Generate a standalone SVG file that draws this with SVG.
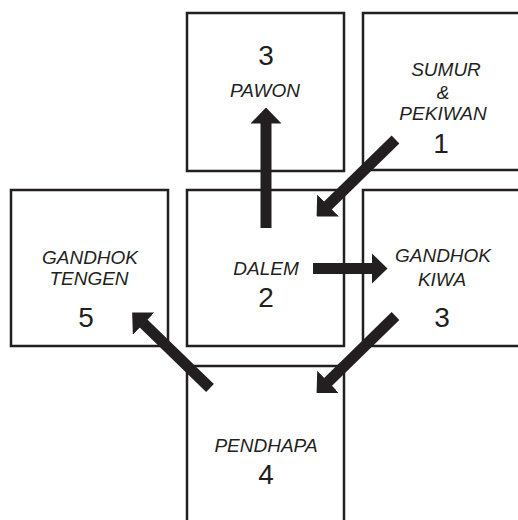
<svg xmlns="http://www.w3.org/2000/svg" width="518" height="520" viewBox="0 0 518 520">
<defs>
<style>
.box{fill:#fff;stroke:#231f20;stroke-width:2.5}
.lbl{font-family:"Liberation Sans",Arial,sans-serif;font-style:italic;font-size:19px;fill:#231f20;text-anchor:middle}
.num{font-family:"Liberation Sans",Arial,sans-serif;font-size:28px;fill:#231f20;text-anchor:middle}
.arr{stroke:#231f20;stroke-width:11;fill:none;marker-end:url(#head)}
</style>
<marker id="head" markerUnits="userSpaceOnUse" markerWidth="16" markerHeight="31" viewBox="0 0 16 31" refX="0.5" refY="15.5" orient="auto">
<path d="M0,0 L16,15.5 L0,31 Z" fill="#231f20"/>
</marker>
</defs>
<rect width="518" height="520" fill="#fff"/>
<g id="pawon">
<rect class="box" x="187" y="13" width="157" height="158"/>
<text class="num" x="266" y="65">3</text>
<text class="lbl" x="265" y="97">PAWON</text>
</g>
<g id="sumur">
<rect class="box" x="363" y="13" width="170" height="157"/>
<text class="lbl" x="446" y="76">SUMUR</text>
<text class="lbl" x="443" y="99">&amp;</text>
<text class="lbl" x="443" y="120">PEKIWAN</text>
<text class="num" x="441" y="153">1</text>
</g>
<g id="tengen">
<rect class="box" x="11" y="190" width="157" height="156"/>
<text class="lbl" x="90" y="264">GANDHOK</text>
<text class="lbl" x="89" y="285">TENGEN</text>
<text class="num" x="86" y="327">5</text>
</g>
<g id="dalem">
<rect class="box" x="187" y="190" width="157" height="156"/>
<text class="lbl" x="266" y="275">DALEM</text>
<text class="num" x="266" y="307">2</text>
</g>
<g id="kiwa">
<rect class="box" x="363" y="190" width="170" height="156"/>
<text class="lbl" x="443" y="262">GANDHOK</text>
<text class="lbl" x="442" y="286">KIWA</text>
<text class="num" x="442" y="327">3</text>
</g>
<g id="pendhapa">
<rect class="box" x="187" y="366" width="157" height="170"/>
<text class="lbl" x="266" y="452">PENDHAPA</text>
<text class="num" x="266" y="484">4</text>
</g>
<g id="connectors">
<line class="arr" x1="266" y1="228" x2="266" y2="123"/>
<line class="arr" x1="313" y1="268.5" x2="372" y2="268.5"/>
<line class="arr" x1="395.5" y1="139.5" x2="327.7" y2="205.7"/>
<line class="arr" x1="395.5" y1="316" x2="327.7" y2="382.2"/>
<line class="arr" x1="210" y1="388" x2="143.3" y2="323.3"/>
</g>
</svg>
